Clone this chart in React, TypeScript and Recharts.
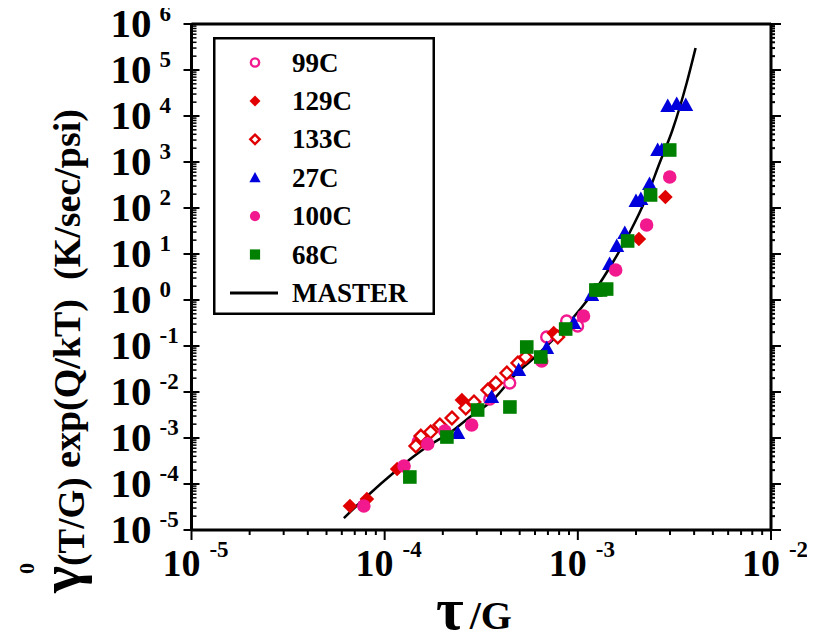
import React from 'react';
import { ComposedChart, Scatter, Line, XAxis, YAxis, Legend } from 'recharts';

const FONT = "'Liberation Serif','Times New Roman',Times,serif";

// decades shown on the axes
const X_EXP = [-5, -4, -3, -2];
const Y_EXP = [-5, -4, -3, -2, -1, 0, 1, 2, 3, 4, 5, 6];
const MINOR = [1, 2, 3, 4, 5, 6, 7, 8, 9];

const decadeTicks = (exps: number[]) =>
  exps.flatMap((e, i) =>
    i === exps.length - 1 ? [Math.pow(10, e)] : MINOR.map((m) => m * Math.pow(10, e))
  );
const xTicks = decadeTicks(X_EXP);
const yTicks = decadeTicks(Y_EXP);

const c99 = [
  { x: 1.49e-4, y: 8.18e-4 },
  { x: 3.5e-4, y: 7.05e-3 },
  { x: 4.44e-4, y: 1.57e-2 },
  { x: 6.9e-4, y: 0.157 },
  { x: 8.75e-4, y: 0.349 },
  { x: 9.97e-4, y: 0.272 },
];

const c129 = [
  { x: 6.61e-5, y: 3.33e-5 },
  { x: 8.09e-5, y: 4.72e-5 },
  { x: 1.16e-4, y: 2.12e-4 },
  { x: 2.51e-4, y: 6.7e-3 },
  { x: 7.5e-4, y: 0.192 },
  { x: 2.07e-3, y: 21.2 },
  { x: 2.84e-3, y: 173 },
];

const c133 = [
  { x: 1.45e-4, y: 6.7e-4 },
  { x: 1.54e-4, y: 1.1e-3 },
  { x: 1.73e-4, y: 1.35e-3 },
  { x: 1.93e-4, y: 1.92e-3 },
  { x: 2.23e-4, y: 2.72e-3 },
  { x: 2.63e-4, y: 4.49e-3 },
  { x: 2.9e-4, y: 6.06e-3 },
  { x: 3.42e-4, y: 1.1e-2 },
  { x: 3.76e-4, y: 1.57e-2 },
  { x: 4.29e-4, y: 2.59e-2 },
  { x: 4.89e-4, y: 4.27e-2 },
  { x: 5.37e-4, y: 5.77e-2 },
  { x: 7.87e-4, y: 0.157 },
];

const c27 = [
  { x: 2.39e-4, y: 1.29e-3 },
  { x: 3.58e-4, y: 7.78e-3 },
  { x: 4.94e-4, y: 3.01e-2 },
  { x: 6.9e-4, y: 9.06e-2 },
  { x: 9.53e-4, y: 0.316 },
  { x: 1.18e-3, y: 1.29 },
  { x: 1.46e-3, y: 6.06 },
  { x: 1.59e-3, y: 14.9 },
  { x: 1.75e-3, y: 28.6 },
  { x: 2.0e-3, y: 142 },
  { x: 2.12e-3, y: 157 },
  { x: 2.35e-3, y: 333 },
  { x: 2.59e-3, y: 1823 },
  { x: 2.72e-3, y: 1823 },
  { x: 2.92e-3, y: 16500 },
  { x: 3.25e-3, y: 18200 },
  { x: 3.62e-3, y: 17300 },
];

const c100 = [
  { x: 7.8e-5, y: 3.33e-5 },
  { x: 1.26e-4, y: 2.46e-4 },
  { x: 1.67e-4, y: 7.41e-4 },
  { x: 2.05e-4, y: 1.42e-3 },
  { x: 2.82e-4, y: 1.92e-3 },
  { x: 6.5e-4, y: 4.72e-2 },
  { x: 1.07e-3, y: 0.449 },
  { x: 1.57e-3, y: 4.49 },
  { x: 2.27e-3, y: 42.7 },
  { x: 2.99e-3, y: 472 },
];

const c68 = [
  { x: 1.35e-4, y: 1.42e-4 },
  { x: 2.1e-4, y: 1.05e-3 },
  { x: 3.03e-4, y: 4.06e-3 },
  { x: 4.45e-4, y: 4.72e-3 },
  { x: 5.44e-4, y: 9.51e-2 },
  { x: 6.43e-4, y: 5.77e-2 },
  { x: 8.65e-4, y: 0.234 },
  { x: 1.24e-3, y: 1.65 },
  { x: 1.31e-3, y: 1.65 },
  { x: 1.41e-3, y: 1.73 },
  { x: 1.81e-3, y: 19.2 },
  { x: 2.38e-3, y: 192 },
  { x: 2.99e-3, y: 1823 },
];

const master = [
  { x: 6.15e-5, y: 1.82e-5 },
  { x: 7.71e-5, y: 4.49e-5 },
  { x: 1.156e-4, y: 2.01e-4 },
  { x: 1.4e-4, y: 3.86e-4 },
  { x: 1.71e-4, y: 7.05e-4 },
  { x: 2.17e-4, y: 1.29e-3 },
  { x: 2.76e-4, y: 2.86e-3 },
  { x: 3.63e-4, y: 6.7e-3 },
  { x: 4.83e-4, y: 2.59e-2 },
  { x: 5.77e-4, y: 4.97e-2 },
  { x: 8.05e-4, y: 0.192 },
  { x: 1.02e-3, y: 0.607 },
  { x: 1.25e-3, y: 1.82 },
  { x: 1.51e-3, y: 6.37 },
  { x: 1.85e-3, y: 28.6 },
  { x: 2.27e-3, y: 173 },
  { x: 2.65e-3, y: 951 },
  { x: 3.09e-3, y: 4966 },
  { x: 3.66e-3, y: 52100 },
  { x: 4.07e-3, y: 300600 },
];

const PINK = '#f2188e';
const RED = '#e00000';
const BLUE = '#0000dd';
const GREEN = '#008000';

type Kind = 'oCircle' | 'fDiamond' | 'oDiamond' | 'tri' | 'fCircle' | 'square';

const SERIES: { name: string; kind: Kind; color: string; data: { x: number; y: number }[] }[] = [
  { name: '99C', kind: 'oCircle', color: PINK, data: c99 },
  { name: '129C', kind: 'fDiamond', color: RED, data: c129 },
  { name: '133C', kind: 'oDiamond', color: RED, data: c133 },
  { name: '27C', kind: 'tri', color: BLUE, data: c27 },
  { name: '100C', kind: 'fCircle', color: PINK, data: c100 },
  { name: '68C', kind: 'square', color: GREEN, data: c68 },
];

const marker = (kind: Kind, color: string, cx: number, cy: number, s = 1) => {
  switch (kind) {
    case 'oCircle':
      return <circle cx={cx} cy={cy} r={5.5 * s} fill="#fff" stroke={color} strokeWidth={2.4} />;
    case 'fCircle':
      return <circle cx={cx} cy={cy} r={6.8 * s} fill={color} />;
    case 'fDiamond': {
      const d = 7.3 * s;
      return <polygon points={`${cx},${cy - d} ${cx + d},${cy} ${cx},${cy + d} ${cx - d},${cy}`} fill={color} />;
    }
    case 'oDiamond': {
      const d = 6.3 * s;
      return (
        <polygon
          points={`${cx},${cy - d} ${cx + d},${cy} ${cx},${cy + d} ${cx - d},${cy}`}
          fill="#fff"
          stroke={color}
          strokeWidth={2.4}
        />
      );
    }
    case 'tri': {
      const h = 7.5 * s;
      return <polygon points={`${cx},${cy - h} ${cx + h},${cy + h * 0.8} ${cx - h},${cy + h * 0.8}`} fill={color} />;
    }
    case 'square': {
      const a = 6.8 * s;
      return <rect x={cx - a} y={cy - a} width={2 * a} height={2 * a} fill={color} />;
    }
  }
  return null;
};

const isMajor = (v: number) => {
  const l = Math.log10(v);
  return Math.abs(l - Math.round(l)) < 1e-6;
};

const BottomTick = (props: any) => {
  const { x, y, payload } = props;
  const major = isMajor(payload.value);
  const e = Math.round(Math.log10(payload.value));
  return (
    <g>
      <line x1={x} x2={x} y1={y} y2={y + (major ? 10 : 5)} stroke="#000" strokeWidth={2} />
      {major && (
        <text x={x + 4} y={y + 46} textAnchor="middle" fontFamily={FONT} fontWeight="bold" fontSize={38} fill="#000">
          10
          <tspan dx={9} dy={-19} fontSize={23}>
            {String(e)}
          </tspan>
        </text>
      )}
    </g>
  );
};

const TopTick = (props: any) => {
  const { x, y, payload } = props;
  const major = isMajor(payload.value);
  return <line x1={x} x2={x} y1={y} y2={y - (major ? 8 : 4)} stroke="#000" strokeWidth={2} />;
};

const LeftTick = (props: any) => {
  const { x, y, payload } = props;
  const major = isMajor(payload.value);
  const e = Math.round(Math.log10(payload.value));
  return (
    <g>
      {major ? (
        <line x1={x - 8} x2={x + 8} y1={y} y2={y} stroke="#000" strokeWidth={2} />
      ) : (
        <line x1={x} x2={x + 5} y1={y} y2={y} stroke="#000" strokeWidth={1.5} />
      )}
      {major && (
        <text x={x - 40} y={y + 13} textAnchor="end" fontFamily={FONT} fontWeight="bold" fontSize={41} fill="#000">
          10
        </text>
      )}
      {major && (
        <text x={x - 32} y={y - 3} textAnchor="start" fontFamily={FONT} fontWeight="bold" fontSize={23} fill="#000">
          {String(e)}
        </text>
      )}
    </g>
  );
};

const RightTick = (props: any) => {
  const { x, y, payload } = props;
  const major = isMajor(payload.value);
  return <line x1={x} x2={x + (major ? 10 : 4)} y1={y} y2={y} stroke="#000" strokeWidth={2} />;
};

const ROW0 = 25.5;
const ROWH = 38.4;

const LegendBox = () => (
  <svg width={222} height={278} style={{ display: 'block' }}>
    <rect x={1.25} y={1.25} width={219.5} height={275.5} fill="#fff" stroke="#000" strokeWidth={2.5} />
    {SERIES.map((s, i) => (
      <g key={s.name}>
        {marker(s.kind, s.color, 42, ROW0 + i * ROWH, 0.75)}
        <text x={79} y={ROW0 + i * ROWH + 9} fontFamily={FONT} fontWeight="bold" fontSize={27} fill="#000">
          {s.name}
        </text>
      </g>
    ))}
    <line x1={17} x2={65} y1={ROW0 + 6 * ROWH} y2={ROW0 + 6 * ROWH} stroke="#000" strokeWidth={3} />
    <text x={79} y={ROW0 + 6 * ROWH + 9} fontFamily={FONT} fontWeight="bold" fontSize={27} fill="#000">
      MASTER
    </text>
  </svg>
);

const W = 815;
const H = 641;

export default function App() {
  return (
    <div style={{ position: 'relative', width: W, height: H, marginLeft: -8, marginTop: -8 }}>
      <ComposedChart width={W} height={H} margin={{ top: 14, right: 34, bottom: 51, left: 0 }}>
        <XAxis
          dataKey="x"
          type="number"
          scale="log"
          domain={[1e-5, 1e-2]}
          ticks={xTicks}
          interval={0}
          allowDataOverflow
          height={60}
          tickSize={0}
          tickMargin={0}
          tick={<BottomTick />}
          axisLine={{ stroke: '#000', strokeWidth: 3 }}
        />
        <XAxis
          xAxisId="top"
          orientation="top"
          type="number"
          scale="log"
          domain={[1e-5, 1e-2]}
          ticks={xTicks}
          interval={0}
          allowDataOverflow
          height={10}
          tickSize={0}
          tickMargin={0}
          tick={<TopTick />}
          axisLine={{ stroke: '#000', strokeWidth: 3 }}
        />
        <YAxis
          dataKey="y"
          type="number"
          scale="log"
          domain={[1e-5, 1e6]}
          ticks={yTicks}
          interval={0}
          allowDataOverflow
          width={191.5}
          tickSize={0}
          tickMargin={0}
          tick={<LeftTick />}
          axisLine={{ stroke: '#000', strokeWidth: 3 }}
        />
        <YAxis
          yAxisId="right"
          orientation="right"
          type="number"
          scale="log"
          domain={[1e-5, 1e6]}
          ticks={yTicks}
          interval={0}
          allowDataOverflow
          width={10}
          tickSize={0}
          tickMargin={0}
          tick={<RightTick />}
          axisLine={{ stroke: '#000', strokeWidth: 3 }}
        />
        <Legend
          layout="vertical"
          align="center"
          verticalAlign="middle"
          wrapperStyle={{ position: 'absolute', left: 213, top: 37, width: 222, height: 278 }}
          content={() => <LegendBox />}
        />
        {SERIES.map((s) => (
          <Scatter
            key={s.name}
            name={s.name}
            data={s.data}
            isAnimationActive={false}
            shape={(p: any) => marker(s.kind, s.color, p.cx, p.cy)}
          />
        ))}
        <Line
          data={master}
          dataKey="y"
          type="monotone"
          stroke="#000"
          strokeWidth={2.5}
          dot={false}
          activeDot={false}
          isAnimationActive={false}
        />
      </ComposedChart>
      <svg width={W} height={H} style={{ position: 'absolute', left: 0, top: 0, pointerEvents: 'none' }}>
        <text x={436} y={629} fontFamily={FONT} fontWeight="bold" fill="#000">
          <tspan fontSize={60}>τ</tspan>
          <tspan fontSize={40} dx={6}>/G</tspan>
        </text>
        <g transform="rotate(-90, 80, 593)">
          <text x={80} y={593} fontFamily={FONT} fontWeight="bold" fill="#000" style={{ whiteSpace: 'pre' }}>
            <tspan fontSize={58}>γ</tspan>
            <tspan fontSize={37} dy={4}>(T/G)</tspan>
            <tspan fontSize={38} dy={-4}>{' exp(Q/kT)  (K/sec/psi)'}</tspan>
          </text>
          <text x={99} y={547} fontFamily={FONT} fontWeight="bold" fontSize={22} fill="#000">
            0
          </text>
        </g>
      </svg>
    </div>
  );
}
